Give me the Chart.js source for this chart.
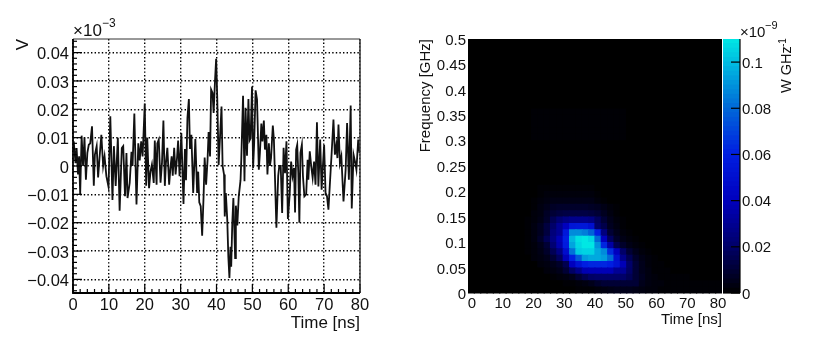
<!DOCTYPE html>
<html><head><meta charset="utf-8">
<style>html,body{margin:0;padding:0;background:#fff}#w{position:relative;width:814px;height:340px;overflow:hidden}canvas{position:absolute;top:0}</style>
<script src="https://cdn.jsdelivr.net/npm/chart.js@4/dist/chart.umd.min.js"></script>
</head><body><div id="w">
<canvas id="a" width="400" height="340" style="left:0;width:400px;height:340px"></canvas>
<canvas id="b" width="340" height="340" style="left:400px;width:340px;height:340px"></canvas>
<canvas id="c" width="114" height="340" style="left:700px;width:114px;height:340px"></canvas>
</div>
<script>
// ---- waveform (left panel) ----
const timeNs = [0.2,0.7,1.0,1.4,1.7,2.0,2.4,2.8,3.2,3.6,4.0,4.4,4.8,5.3,5.8,6.1,6.6,7.0,7.4,7.9,8.4,8.8,9.3,9.9,10.4,11.0,11.4,11.9,12.5,13.0,13.6,14.0,14.5,14.9,15.2,15.8,16.3,16.6,17.1,17.7,18.2,18.6,19.0,19.4,19.6,20.0,20.4,20.7,21.2,21.6,22.0,22.5,22.8,23.3,23.5,23.9,24.4,24.8,25.2,25.6,25.9,26.3,26.8,27.2,27.5,27.8,28.2,28.6,29.0,29.3,29.7,30.2,30.8,31.2,31.5,31.9,32.3,32.6,33.0,33.5,34.1,34.6,34.9,35.2,35.6,36.0,36.4,36.7,37.1,37.5,37.8,38.2,38.5,38.9,39.2,39.6,39.9,40.2,40.6,41.4,41.7,42.1,42.3,42.6,43.0,43.3,43.6,43.9,44.1,44.4,44.7,45.2,45.4,45.8,46.2,46.7,46.9,47.4,47.8,48.1,48.5,48.9,49.2,49.5,49.9,50.2,50.5,50.9,51.3,51.8,52.1,52.5,52.8,53.2,53.5,53.9,54.2,54.6,54.9,55.2,55.7,56.0,56.7,57.2,57.5,57.9,58.3,58.7,59.1,59.5,59.9,60.4,60.8,61.2,61.6,61.9,62.2,62.5,62.8,63.1,63.4,63.8,64.1,64.5,65.0,65.4,65.6,66.0,66.4,66.8,67.2,67.6,68.0,68.4,68.9,69.3,69.7,70.0,70.4,70.8,71.2,71.7,72.1,72.6,73.0,73.4,73.7,74.0,74.4,74.8,75.4,76.0,76.4,76.9,77.4,77.7,78.2,78.7,79.0,79.5,79.9];
const voltageMilli = [8.7,1,6.3,-3,3.4,-10,10.7,0,10,-4.8,4.6,7.5,8,14,-7,4,7,-4,3,11,0,3.4,-3.6,-7.4,17.5,-12,7,-7,10,-15.8,6.3,7,-10.7,4.6,-11.3,-6,5,0,18.5,-13.6,8,2,8.7,3.4,9.3,22,-7,10,-7.8,-2,0.5,-6,9,-6.6,8,9.3,-5.9,1,16,-7,1,6.4,-6.6,0,3.4,-3.4,6.4,-3,3,9,-3.6,11.6,-13.4,6,-5,17,23.6,6,11,-9.5,9.5,-9.5,-2,-12.8,-14.2,-24.6,-10.7,3,-6.6,2,12,3.4,27,25.8,18.7,30.5,37.8,24.6,0.4,21,0,-3,-17.8,-9.5,-19,-32,-39.5,-28.5,-35.5,-20,-11.3,-32.5,-14,-21,-10.7,-5,2,24.8,-5.4,20.5,3.6,23.6,9,9.8,28,-0.7,8,26.7,23.4,-1.3,4.6,15,8.7,16,5.8,11,-3,8,0,2.8,14.3,9.3,-21.8,-3.5,0,0,-16.6,6.4,-2.5,8.7,-18.7,-10,1.6,-3.6,-0.7,-16.4,5.8,7.5,-2.4,-20,4.6,7.5,-3.6,-10.7,-10,2.2,-4.8,5.2,0,-4.2,1.6,-6.6,15.4,-7.2,9.3,-8.4,1,7.5,-9.5,-10.7,-15.4,-4.2,4.6,16.4,4,7.5,2.8,14.6,1,3.4,-12.5,-1.3,15.2,-4.8,21.3,-15,4,1,-1.3,9.3,4.6];
const waveXTicks = [0,10,20,30,40,50,60,70,80];
const waveYTicks = [-0.04,-0.03,-0.02,-0.01,0,0.01,0.02,0.03,0.04];
// ---- spectrogram (right panel): power per cell, 1e-12 W/GHz, rows from low to high frequency ----
const p00=[0,0,0,0,0,0,0,0,0,0, 0,0,0,0,0,0,0,1,1,1, 2,3,4,5,5,5,4,3,2,2, 1,1,1,1,1,1,1,1,1,1];
const p01=[0,0,0,0,0,0,0,0,0,0, 0,0,0,0,0,1,1,2,3,5, 8,10,10,10,10,10,10,5,3,2, 2,1,1,1,1,1,1,1,1,1];
const p02=[0,0,0,0,0,0,0,0,0,0, 0,0,0,1,2,3,5,10,15,19, 20,20,20,20,20,16,10,6,3,2, 1,1,1,1,1,0,0,0,0,0];
const p03=[0,0,0,0,0,0,0,0,0,0, 0,0,2,3,5,10,19,27,37,38, 38,38,38,30,30,19,10,5,3,1, 1,1,0,0,0,0,0,0,0,0];
const p04=[0,0,0,0,0,0,0,0,0,0, 0,2,3,5,8,15,40,52,60,62, 62,62,60,52,38,20,10,5,2,1, 1,0,0,0,0,0,0,0,0,0];
const p05=[0,0,0,0,0,0,0,0,0,0, 2,3,5,10,18,38,60,76,92,95, 95,92,80,50,28,16,8,4,2,1, 0,0,0,0,0,0,0,0,0,0];
const p06=[0,0,0,0,0,0,0,0,0,1, 2,4,8,16,26,48,82,103,105,105, 95,88,64,40,20,10,5,2,1,0, 0,0,0,0,0,0,0,0,0,0];
const p07=[0,0,0,0,0,0,0,0,0,1, 2,5,10,22,36,58,94,106,110,110, 90,62,34,15,8,4,2,1,0,0, 0,0,0,0,0,0,0,0,0,0];
const p08=[0,0,0,0,0,0,0,0,0,1, 3,8,16,26,38,60,98,108,110,106, 80,40,18,8,4,2,1,0,0,0, 0,0,0,0,0,0,0,0,0,0];
const p09=[0,0,0,0,0,0,0,0,0,1, 3,6,12,24,30,56,88,88,85,78, 60,25,10,5,2,1,0,0,0,0, 0,0,0,0,0,0,0,0,0,0];
const p10=[0,0,0,0,0,0,0,0,0,1, 3,6,12,20,30,40,54,55,55,50, 20,14,6,3,1,0,0,0,0,0, 0,0,0,0,0,0,0,0,0,0];
const p11=[0,0,0,0,0,0,0,0,0,1, 2,4,8,16,22,26,28,28,28,26, 18,10,5,2,1,0,0,0,0,0, 0,0,0,0,0,0,0,0,0,0];
const p12=[0,0,0,0,0,0,0,0,0,0, 2,3,7,10,12,13,13,13,13,12, 10,6,3,1,0,0,0,0,0,0, 0,0,0,0,0,0,0,0,0,0];
const p13=[0,0,0,0,0,0,0,0,0,0, 1,3,5,7,8,8,8,8,8,7, 6,4,2,1,0,0,0,0,0,0, 0,0,0,0,0,0,0,0,0,0];
const p14=[0,0,0,0,0,0,0,0,0,0, 1,2,3,4,4,4,4,4,4,4, 2,1,0,0,0,0,0,0,0,0, 0,0,0,0,0,0,0,0,0,0];
const p15=[0,0,0,0,0,0,0,0,0,0, 0,1,2,2,2,2,2,2,2,2, 1,0,0,0,0,0,0,0,0,0, 0,0,0,0,0,0,0,0,0,0];
const p16=[0,0,0,0,0,0,0,0,0,0, 0,1,1,1,1,1,1,1,1,1, 0,0,0,0,0,0,0,0,0,0, 0,0,0,0,0,0,0,0,0,0];
const pDark=[0,0,0,0,0,0,0,0,0,0, 0,0,0,0,0,0,0,0,0,0, 0,0,0,0,0,0,0,0,0,0, 0,0,0,0,0,0,0,0,0,0];
const pFaint=[0,0,0,0,0,0,0,0,0,0, 1,1,1,1,1,1,1,1,1,1, 1,1,1,1,1,0,0,0,0,0, 0,0,0,0,0,0,0,0,0,0];
const powerRows=[p00,p01,p02,p03,p04,p05,p06,p07,p08,p09,p10,p11,p12,p13,p14,p15,p16,pDark,pDark,pDark,pDark,pDark,pDark,pDark,pFaint,pFaint,pFaint,pFaint,pFaint,pDark,pDark,pDark,pDark,pDark,pDark,pDark,pDark,pDark,pDark,pDark];
const timeBins=[1,3,5,7,9,11,13,15,17,19,21,23,25,27,29,31,33,35,37,39,41,43,45,47,49,51,53,55,57,59,61,63,65,67,69,71,73,75,77,79];
const freqBinHeight=0.0125;
const heatXTicks=[0,10,20,30,40,50,60,70,80];
const heatYTicks=[0,0.05,0.1,0.15,0.2,0.25,0.3,0.35,0.4,0.45,0.5];
const barTicks=[0,0.02,0.04,0.06,0.08,0.1];
// ---- colour scale ----
const colourStops=[[0,0,0,0],[0.02,0,0,105],[0.04,0,0,190],[0.06,0,30,225],[0.08,0,105,215],[0.1,0,190,225],[0.11,0,232,228]];
function colourOf(v){
  for(let i=1;i<colourStops.length;i++){
    const a=colourStops[i-1],b=colourStops[i];
    if(v<=b[0]){const t=(v-a[0])/(b[0]-a[0]);
      return `rgb(${Math.round(a[1]+(b[1]-a[1])*t)},${Math.round(a[2]+(b[2]-a[2])*t)},${Math.round(a[3]+(b[3]-a[3])*t)})`;}
  }
  return 'rgb(0,232,228)';
}
const FONT='"Liberation Sans", Arial, sans-serif', INK='#111';
Chart.defaults.font.family=FONT; Chart.defaults.color=INK; Chart.defaults.animation=false;
const fixTicks=arr=>s=>{s.ticks=arr.map(v=>({value:v}));};
const fmt=v=>String(Number(Number(v).toFixed(3))).replace('-','\u2212');
const base={responsive:false,maintainAspectRatio:false,animation:false,
  plugins:{legend:{display:false},tooltip:{enabled:false},title:{display:false}}};

// ---- left ----
const waveDeco={id:'waveDeco',afterDatasetsDraw(ch){
  const c=ch.ctx,{left,right,top,bottom}=ch.chartArea,x=ch.scales.x,y=ch.scales.y;
  c.save();c.strokeStyle='#000';
  const line=(w,a,b,d,e)=>{c.lineWidth=w;c.beginPath();c.moveTo(a,b);c.lineTo(d,e);c.stroke();};
  for(let v=0;v<=80;v+=2){const p=x.getPixelForValue(v);line(1.2,p,bottom,p,bottom-(v%10===0?9:4));}
  for(let k=-22;k<=22;k++){const p=y.getPixelForValue(k*0.002);line(1.2,left,p,left+(k%5===0?9:4),p);}
  c.strokeStyle='#333';line(1,left,top,right,top);line(1.5,right,top,right,bottom);
  c.strokeStyle='#000';line(1.8,left,top,left,bottom+0.9);line(1.8,left,bottom,right,bottom);
  c.fillStyle=INK;c.textBaseline='middle';c.textAlign='left';
  c.font='17px '+FONT;c.fillText('\u00d710',73,31);
  c.font='12px '+FONT;c.fillText('\u22123',102,24);
  c.restore();
}};
new Chart(document.getElementById('a'),{type:'line',
  data:{datasets:[{data:timeNs.map((t,i)=>({x:t,y:voltageMilli[i]/1000})),borderColor:'#111',borderWidth:1.8,pointRadius:0,tension:0,fill:false}]},
  options:{...base,layout:{autoPadding:false,padding:{left:0,top:39,right:40,bottom:0}},
    scales:{
      x:{type:'linear',min:0,max:80,afterFit(s){s.height=47;},afterBuildTicks:fixTicks(waveXTicks),
        grid:{color:'#000',lineWidth:1.4,drawTicks:false},border:{display:false,dash:[1.4,2.2]},
        ticks:{autoSkip:false,maxRotation:0,padding:3,font:{size:16.5},callback:v=>fmt(v)},
        title:{display:true,text:'Time [ns]',align:'end',font:{size:17},padding:{top:0,bottom:6}}},
      y:{type:'linear',min:-0.0448,max:0.0448,afterFit(s){s.width=73;},afterBuildTicks:fixTicks(waveYTicks),
        grid:{color:'#000',lineWidth:1.4,drawTicks:false},border:{display:false,dash:[1.4,2.2]},
        ticks:{autoSkip:false,padding:4,labelOffset:2,font:{size:16.5},callback:v=>fmt(v)},
        title:{display:true,text:'V',align:'end',font:{size:17},padding:{top:13,bottom:0}}}
    }},plugins:[waveDeco]});

// ---- right: heat map as stacked bars ----
new Chart(document.getElementById('b'),{type:'bar',
  data:{labels:timeBins,datasets:powerRows.map(r=>({data:r.map(()=>freqBinHeight),backgroundColor:r.map(v=>colourOf(v/1000)),
     borderWidth:0,barPercentage:1,categoryPercentage:1,inflateAmount:0.6,xAxisID:'x',yAxisID:'y'}))},
  options:{...base,layout:{autoPadding:false,padding:{left:0,top:39,right:18,bottom:0}},
    scales:{
      x:{type:'category',stacked:true,display:false,offset:true},
      xTime:{type:'linear',axis:'x',position:'bottom',offset:false,min:-1.3,max:81.3,afterFit(s){s.height=46.5;},afterBuildTicks:fixTicks(heatXTicks),
        grid:{display:false,drawTicks:false,offset:false},border:{display:false},
        ticks:{autoSkip:false,maxRotation:0,padding:1,font:{size:15},callback:v=>fmt(v)},
        title:{display:true,text:'Time [ns]',align:'end',font:{size:15},padding:{top:0,bottom:11}}},
      y:{type:'linear',stacked:true,min:0,max:0.5,afterFit(s){s.width=68;},afterBuildTicks:fixTicks(heatYTicks),
        grid:{display:false,drawTicks:false},border:{display:false},
        ticks:{autoSkip:false,padding:2,labelOffset:1.5,font:{size:15},callback:v=>fmt(v)},
        title:{display:true,text:'Frequency [GHz]',align:'end',font:{size:15},padding:{top:17,bottom:0}}}
    }}});

// ---- colour bar ----
const levels=[];for(let k=0;k<55;k++)levels.push(k*0.002);
const barDeco={id:'barDeco',afterDatasetsDraw(ch){
  const c=ch.ctx,{left,right,top,bottom}=ch.chartArea,y=ch.scales.y;
  c.save();c.strokeStyle='#000';c.lineWidth=1.2;
  barTicks.forEach(v=>{const p=y.getPixelForValue(v);c.beginPath();c.moveTo(right-9,p);c.lineTo(right,p);c.stroke();});
  c.beginPath();c.moveTo(right,top);c.lineTo(right,bottom);c.stroke();
  c.beginPath();c.moveTo(left,bottom);c.lineTo(right,bottom);c.stroke();
  c.fillStyle=INK;c.textBaseline='middle';c.textAlign='left';
  c.font='15px '+FONT;c.fillText('\u00d710',40,33);
  c.font='11px '+FONT;c.fillText('\u22129',65,26);
  c.translate(91,93);c.rotate(-Math.PI/2);c.textBaseline='alphabetic';
  c.font='14.5px '+FONT;c.fillText('W GHz',0,0);
  c.font='10px '+FONT;c.fillText('-1',46,-5);
  c.restore();
}};
new Chart(document.getElementById('c'),{type:'bar',
  data:{labels:['scale'],datasets:levels.map(l=>({data:[0.002],backgroundColor:colourOf(l+0.001),borderWidth:0,barPercentage:1,categoryPercentage:1,inflateAmount:0.6}))},
  options:{...base,layout:{autoPadding:false,padding:{left:23,top:39,right:0,bottom:47}},
    scales:{
      x:{type:'category',stacked:true,display:false},
      y:{type:'linear',position:'right',stacked:true,min:0,max:0.11,afterFit(s){s.width=74;},afterBuildTicks:fixTicks(barTicks),
        grid:{display:false,drawTicks:false},border:{display:false},
        ticks:{autoSkip:false,padding:2,labelOffset:1.5,font:{size:15},callback:v=>fmt(v)}}
    }},plugins:[barDeco]});
</script></body></html>
